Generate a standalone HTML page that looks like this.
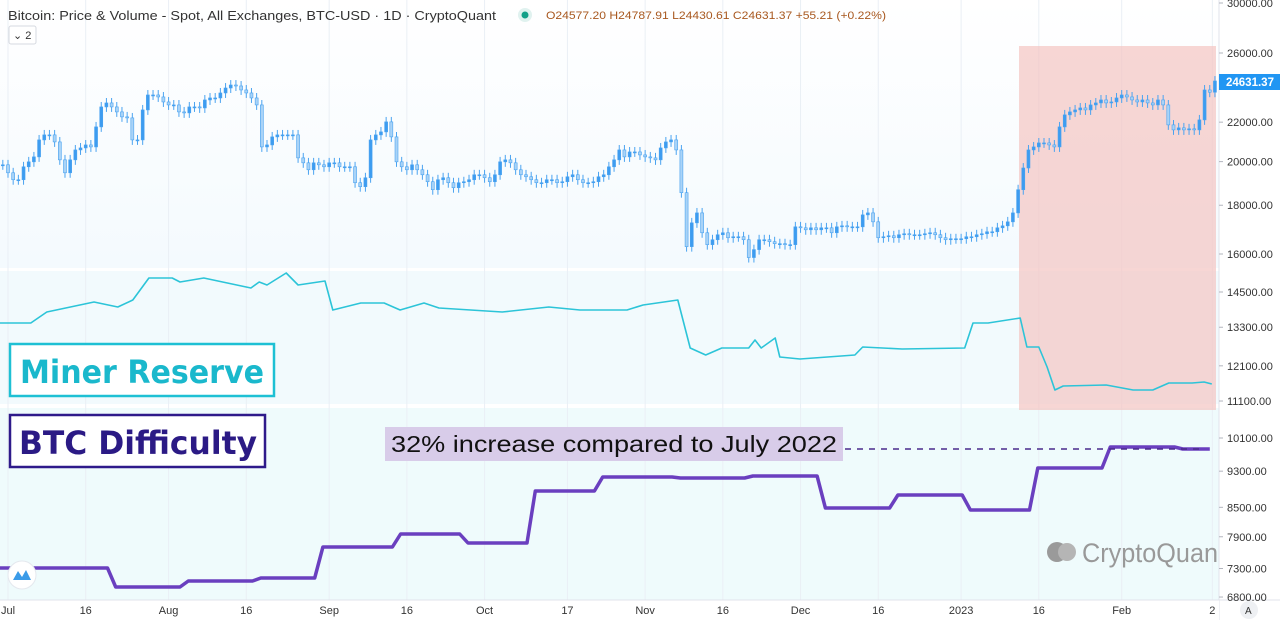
<!DOCTYPE html>
<html><head><meta charset="utf-8"><style>
html,body{margin:0;padding:0;background:#fff;}
svg{display:block;font-family:"Liberation Sans","DejaVu Sans",sans-serif;}
</style></head><body>
<svg id="chart" width="1280" height="620" viewBox="0 0 1280 620" xmlns="http://www.w3.org/2000/svg">
<defs>
<linearGradient id="gTop" x1="0" y1="0" x2="0" y2="1"><stop offset="0" stop-color="#ffffff"/><stop offset="1" stop-color="#f4fafe"/></linearGradient>
</defs>
<rect x="0" y="0" width="1219" height="268" fill="url(#gTop)"/>
<rect x="0" y="268" width="1219" height="3" fill="#ffffff"/>
<rect x="0" y="271" width="1219" height="133" fill="#f2fafd"/>
<rect x="0" y="404" width="1219" height="4" fill="#ffffff"/>
<rect x="0" y="408" width="1219" height="192" fill="#effbfc"/>
<g id="grid"></g>
<rect x="1019" y="46" width="197" height="364" fill="#f4c4c2" opacity="0.7"/>
<g id="candles"></g>
<g id="reserve"></g>
<g id="diff"></g>
<line x1="845" y1="449" x2="1205" y2="449" stroke="#4a2a8c" stroke-width="1.6" stroke-dasharray="6,6"/>
<rect x="385" y="427" width="458" height="34" fill="#d8cce9"/>
<text x="391" y="452" font-size="23" fill="#111" textLength="446" lengthAdjust="spacingAndGlyphs">32% increase compared to July 2022</text>
<rect x="10" y="344" width="264" height="52" fill="#fff" stroke="#1ec0d4" stroke-width="2.5"/>
<text x="20" y="383" font-size="32" font-weight="bold" fill="#1ab8cc" font-family="DejaVu Sans, sans-serif" textLength="244" lengthAdjust="spacingAndGlyphs">Miner Reserve</text>
<rect x="10" y="415" width="255" height="52" fill="#fff" stroke="#2e1a8a" stroke-width="2.5"/>
<text x="19" y="454" font-size="32" font-weight="bold" fill="#2b1a85" font-family="DejaVu Sans, sans-serif" textLength="238" lengthAdjust="spacingAndGlyphs">BTC Difficulty</text>
<g>
<circle cx="1057" cy="552" r="10" fill="#9a9a9a"/><circle cx="1067" cy="552" r="9" fill="#b5b5b5"/>
<text x="1082" y="562" font-size="27" fill="#999" textLength="136" lengthAdjust="spacingAndGlyphs">CryptoQuan</text>
</g>
<g><circle cx="22" cy="575" r="14" fill="#fff" stroke="#e4e8ee"/><path d="M13 580 L18 571 L22 577 L26 570 L31 580 Z" fill="#3a9be8"/></g>
<rect x="1219" y="0" width="61" height="620" fill="#fff"/>
<line x1="1219" y1="0" x2="1219" y2="620" stroke="#e0e3eb"/>
<rect x="0" y="600" width="1219" height="20" fill="#fff"/>
<line x1="0" y1="600" x2="1280" y2="600" stroke="#e0e3eb"/>
<g id="yticks" font-size="11" fill="#333"></g>
<g id="xticks" font-size="11" fill="#333"></g>
<rect x="1219" y="74" width="61" height="16" fill="#2196f3"/>
<text id="lastTxt" x="1226" y="86" font-size="11.5" font-weight="bold" fill="#fff">24631.37</text>
<circle cx="1249" cy="610" r="9" fill="#eef0f3"/>
<text x="1245" y="614" font-size="10" fill="#333">A</text>
<text x="8" y="20" font-size="13" fill="#333" textLength="488" lengthAdjust="spacingAndGlyphs">Bitcoin: Price &amp; Volume - Spot, All Exchanges, BTC-USD · 1D · CryptoQuant</text>
<circle cx="525" cy="15" r="7" fill="#e0f2ef"/><circle cx="525" cy="15" r="3.5" fill="#12a088"/>
<text x="546" y="19" font-size="11" fill="#a8581f" textLength="340" lengthAdjust="spacingAndGlyphs">O24577.20 H24787.91 L24430.61 C24631.37 +55.21 (+0.22%)</text>
<rect x="9" y="26" width="27" height="18" rx="2" fill="#fff" stroke="#d6d9e0"/>
<text x="13" y="39" font-size="11" fill="#333">⌄ 2</text>
</svg>
<script>
const closes=[19847,19468,19144,19144,19752,19990,20230,21077,21334,21334,
20975,20086,19468,20086,20573,20673,20823,20723,21750,22825,
23046,22825,22552,22283,22228,21077,21077,22661,23494,23494,
23382,23101,22935,22935,22552,22498,22825,22825,22770,23213,
23325,23325,23608,23893,24066,24010,23780,23608,23325,22935,
20723,20823,21231,21334,21334,21334,21334,20182,19942,19610,
19942,19847,19752,19942,19942,19752,19752,19752,19006,18824,
19236,21077,21334,21489,22015,21231,19990,19752,19610,19847,
19610,19375,19052,18688,19144,19236,19006,18778,19006,19052,
19144,19375,19375,19236,19052,19375,19990,20086,19942,19610,
19375,19282,19144,19006,19006,19144,19144,19006,19052,19282,
19375,19144,19006,19006,19052,19282,19375,19752,20086,20573,
20230,20474,20474,20327,20230,20182,20086,20673,20975,21077,
20573,18554,16287,17251,17670,16842,16365,16561,16762,16842,
16641,16681,16681,16561,15864,16171,16561,16561,16482,16404,
16404,16365,16365,17086,17045,16964,17045,16964,17045,17045,
16842,17086,17127,17086,17086,17086,17586,17670,17293,16641,
16681,16721,16641,16762,16802,16762,16762,16762,16802,16842,
16762,16641,16561,16601,16601,16601,16681,16681,16762,16802,
16883,16883,17045,17127,17293,17670,18688,19695,20573,20723,
20924,20924,20823,20723,21750,22391,22552,22661,22770,22661,
22935,23046,23213,23046,23101,23325,23494,23382,23213,23101,
23213,23046,22935,23213,22935,21856,21593,21700,21593,21650,
21593,22121,23780,23650,24300];
const reserveDays=[-2,4.4,7.5,16.6,21.2,24.1,27.2,31.7,33.2,37.8,46.9,48.5,50,53.7,56,61.2,62.7,68.1,72.6,75.7,80.3,83.2,95.4,104.4,110.4,119.5,122.6,129.3,131.7,134.7,137.8,143,144.2,145.4,148.1,149,152.9,163.5,165,172.6,184.7,186.3,189.2,195.4,196.7,199,200.6,202.1,203.7,212,217.2,221,224.1,228.6,230.9,232.4];
const reserveVals=[13439,13439,13807,14149,13977,14219,15006,15006,14860,15006,14642,14860,14750,15192,14751,14896,13875,14114,14114,13875,14114,13942,13807,13977,13875,13875,14045,14219,12640,12425,12640,12640,12891,12640,12954,12364,12305,12425,12672,12609,12640,13439,13439,13605,12672,12672,12065,11404,11516,11545,11404,11404,11601,11601,11629,11572];
const diffDays=[-2,20,34,48,60,75,88,101,114,129,143,157,171,185,198,212,226];
const diffVals=[7309,6972,7077,7130,7702,7955,7778,8853,9167,9144,9189,8486,8765,8444,9374,9877,9827];
const diffEnd=232;
const priceTicks=[30000,26000,24000,22000,20000,18000,16000];
const reserveTicks=[14500,13300,12100,11100];
const diffTicks=[10100,9300,8500,7900,7300,6800];
const xLabels=["Jul","16","Aug","16","Sep","16","Oct","17","Nov","16","Dec","16","2023","16","Feb","2"];
const xLabelDays=[0,15,31,46,62,77,92,108,123,138,153,168,184,199,215,232.5];

const NS="http://www.w3.org/2000/svg";
const xOf=d=>8+5.18*d;
const yPrice=p=>53+414*Math.log(26000/p);
const yRes=v=>292+408*Math.log(14500/v);
const yDiff=v=>438+402*Math.log(10100/v);
function mk(tag,attrs,parent){const e=document.createElementNS(NS,tag);for(const k in attrs)e.setAttribute(k,attrs[k]);parent.appendChild(e);return e;}

const grid=document.getElementById('grid');
xLabelDays.forEach(d=>{const l=mk('line',{x1:xOf(d),x2:xOf(d),y1:0,y2:600,stroke:'#eaeff5','stroke-width':1},grid);

});

const cg=document.getElementById('candles');
closes.forEach((c,i)=>{
  const o=i>0?closes[i-1]:c;
  const x=xOf(i-1);
  const hi=Math.max(o,c)*1.012, lo=Math.min(o,c)*0.988;
  const w=mk('line',{x1:x,x2:x,y1:yPrice(hi),y2:yPrice(lo),stroke:'#4aa3f0','stroke-width':1},cg);
  
  
  const yt=yPrice(Math.max(o,c)), yb=yPrice(Math.min(o,c));
  const b=mk('rect',{x:x-1.5,y:yt,width:3,height:Math.max(1,yb-yt),fill:c>=o?'#3d9cf0':'#a9d3f7',stroke:'#4aa3f0','stroke-width':0.6},cg);
  
  
});

const rp=reserveDays.map((d,i)=>xOf(d).toFixed(1)+','+yRes(reserveVals[i]).toFixed(1)).join(' ');
const rl=mk('polyline',{points:rp,fill:'none',stroke:'#2cc4d8','stroke-width':1.6,'stroke-linejoin':'round'},document.getElementById('reserve'));



let dp=[];
diffDays.forEach((d,i)=>{
  const next=i<diffDays.length-1?diffDays[i+1]:diffEnd;
  dp.push(xOf(d+(i>0?0.8:0)).toFixed(1)+','+yDiff(diffVals[i]).toFixed(1));
  dp.push(xOf(next-(i<diffDays.length-1?0.8:0)).toFixed(1)+','+yDiff(diffVals[i]).toFixed(1));
});
const dl=mk('polyline',{points:dp.join(' '),fill:'none',stroke:'#6a3fbf','stroke-width':3.5,'stroke-linejoin':'round'},document.getElementById('diff'));



const yt=document.getElementById('yticks');
priceTicks.forEach(v=>{const y=v===30000?3:yPrice(v);addTick(y,v);});
reserveTicks.forEach(v=>addTick(yRes(v),v));
diffTicks.forEach(v=>addTick(yDiff(v),v));
function addTick(y,v){
  mk('line',{x1:1219,x2:1223,y1:y,y2:y,stroke:'#b2b5be'},yt);
  const t=mk('text',{x:1227,y:y+4},yt);t.textContent=v.toFixed(2);
  
  
}
const xt=document.getElementById('xticks');
xLabels.forEach((s,i)=>{const t=mk('text',{x:xOf(xLabelDays[i]),y:614,'text-anchor':'middle'},xt);t.textContent=s;

});
</script>
</body></html>
